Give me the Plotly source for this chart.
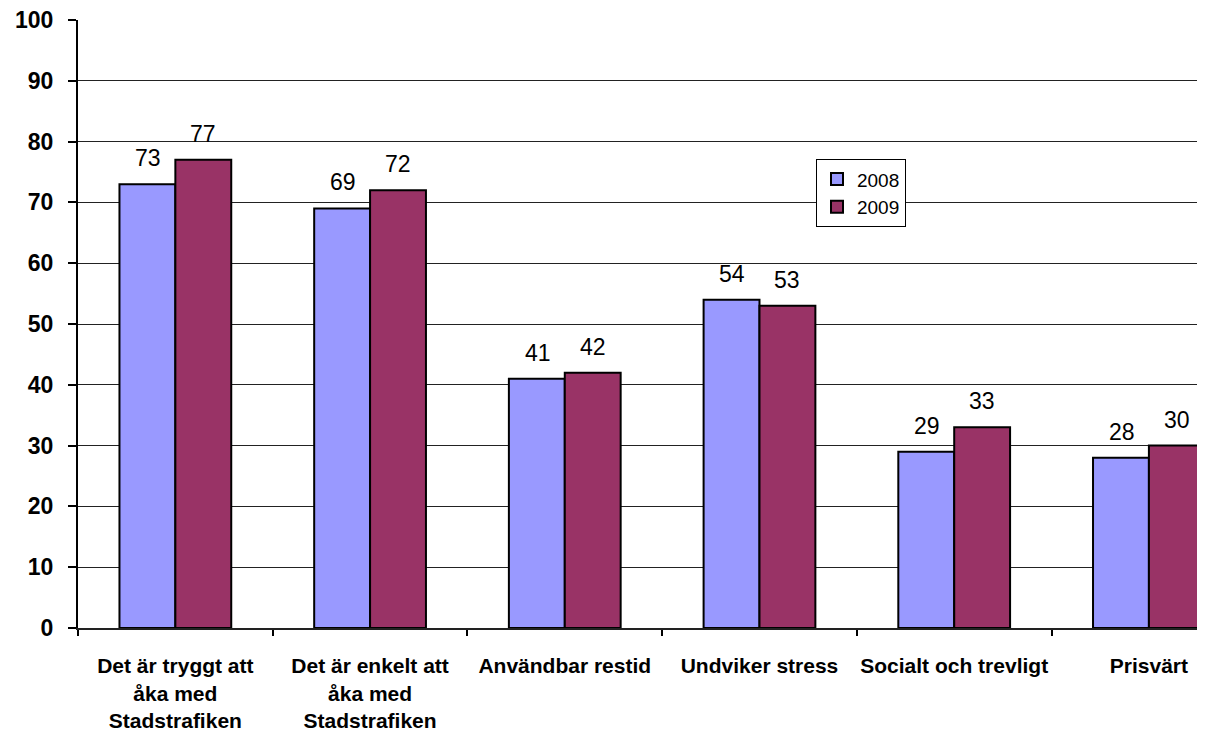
import plotly.graph_objects as go

categories = [
    'Det är tryggt att<br>åka med<br>Stadstrafiken',
    'Det är enkelt att<br>åka med<br>Stadstrafiken',
    'Användbar restid',
    'Undviker stress',
    'Socialt och trevligt',
    'Prisvärt',
]
values_2008 = [73, 69, 41, 54, 29, 28]
values_2009 = [77, 72, 42, 53, 33, 30]
y_ticks = list(range(0, 101, 10))

colors = {'2008': '#9999FF', '2009': '#993366'}
font_family = 'Liberation Sans, Arial, sans-serif'

fig = go.Figure()

fig.add_trace(go.Bar(
    x=categories, y=values_2008, name='2008',
    marker=dict(color=colors['2008'], line=dict(color='black', width=2)),
))
fig.add_trace(go.Bar(
    x=categories, y=values_2009, name='2009',
    marker=dict(color=colors['2009'], line=dict(color='black', width=2)),
))

# value labels above each bar (offset half a bar width to each side)
for vals, shift in ((values_2008, -27), (values_2009, 28)):
    for cat, v in zip(categories, vals):
        fig.add_annotation(
            x=cat, y=v, text=str(v), showarrow=False,
            xshift=shift, yshift=11, yanchor='bottom',
            font=dict(family=font_family, size=23, color='black'),
        )

# page body adds an 8px offset, so margins are trimmed to compensate
fig.update_layout(
    width=1206, height=733,
    paper_bgcolor='white', plot_bgcolor='white',
    margin=dict(l=70, r=17, t=12, b=113),
    barmode='group', bargap=0.426, bargroupgap=0,
    showlegend=True,
    legend=dict(
        x=0.6595, y=0.771, xanchor='left', yanchor='top',
        bgcolor='white', bordercolor='black', borderwidth=1,
        font=dict(family=font_family, size=19, color='black'),
        itemwidth=30, tracegroupgap=0,
    ),
)

fig.update_xaxes(
    type='category', range=[-0.5, 5.247], automargin=False,
    showline=True, linecolor='#222', linewidth=2,
    ticks='outside', tickson='boundaries', ticklen=6, tickcolor='black', tickwidth=2,
    tickfont=dict(family=font_family, size=21, color='black', weight='bold'),
    ticklabelstandoff=18, tickangle=0,
    showgrid=False,
)
fig.update_yaxes(
    range=[0, 100], tickvals=y_ticks, automargin=False,
    showline=True, linecolor='black', linewidth=2,
    ticks='outside', ticklen=8, tickcolor='black', tickwidth=2,
    tickfont=dict(family=font_family, size=23, color='black', weight='bold'),
    ticklabelstandoff=10, ticklabeloverflow='allow',
    showgrid=True, gridcolor='#222', gridwidth=1,
    zeroline=False,
)

fig.write_html("out.html")
